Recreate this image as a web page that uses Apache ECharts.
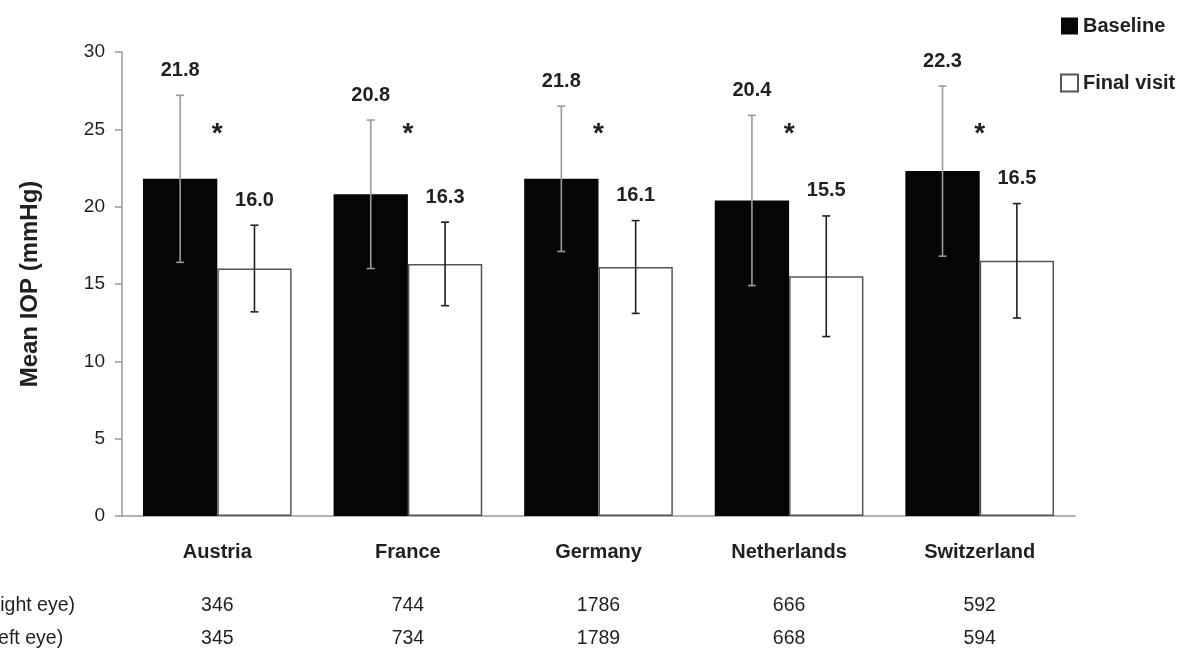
<!DOCTYPE html>
<html><head><meta charset="utf-8">
<script src="https://cdn.jsdelivr.net/npm/echarts@6/dist/echarts.min.js"></script>
<style>html,body{margin:0;padding:0;background:#fff}#main{width:1184px;height:652px}</style>
</head><body><div id="main"></div>
<script>
const countries = ['Austria', 'France', 'Germany', 'Netherlands', 'Switzerland'];
const baselineMean = [21.8, 20.8, 21.8, 20.4, 22.3];
const baselineSD = [5.4, 4.8, 4.7, 5.5, 5.5];
const finalMean = [16.0, 16.3, 16.1, 15.5, 16.5];
const finalSD = [2.8, 2.7, 3.0, 3.9, 3.7];
const nRightEye = ['346', '744', '1786', '666', '592'];
const nLeftEye = ['345', '734', '1789', '668', '594'];
const significance = ['*', '*', '*', '*', '*'];
const seriesNames = ['Baseline', 'Final visit'];
const rowNames = ['n (right eye)', 'n (left eye)'];

const FONT = '"Liberation Sans", Arial, sans-serif';
const TXT = '#231f20';
const GAP = 0.22;

function errRender(side, color) {
  return function (params, api) {
    const idx = api.value(0), m = api.value(1), sd = api.value(2);
    const band = api.size([1, 0])[0];
    const bw = band * (1 - GAP) / 2;
    const x = api.coord([idx, m])[0] + side * bw / 2;
    const yt = api.coord([idx, m + sd])[1];
    const yb = api.coord([idx, m - sd])[1];
    const st = { stroke: color, lineWidth: 1.6 };
    return {
      type: 'group',
      children: [
        { type: 'line', shape: { x1: x, y1: yt, x2: x, y2: yb }, style: st },
        { type: 'line', shape: { x1: x - 4, y1: yt, x2: x + 4, y2: yt }, style: st },
        { type: 'line', shape: { x1: x - 4, y1: yb, x2: x + 4, y2: yb }, style: st },
        { type: 'text', style: { text: m.toFixed(1), x: x, y: yt - 25, align: 'center', verticalAlign: 'middle',
          font: 'bold 20px ' + FONT, fill: TXT } }
      ]
    };
  };
}

function rowAxis(data, name, offset) {
  return {
    type: 'category', data: data, position: 'bottom', offset: offset,
    axisLine: { show: false }, axisTick: { show: false },
    axisLabel: { fontSize: 19.5, color: TXT, margin: 0, verticalAlign: 'middle', fontFamily: FONT },
    name: name, nameLocation: 'start', nameGap: 151,
    nameTextStyle: { fontSize: 19.5, color: TXT, align: 'left', verticalAlign: 'middle', fontFamily: FONT }
  };
}

const chart = echarts.init(document.getElementById('main'));
chart.setOption({
  animation: false,
  backgroundColor: '#fff',
  textStyle: { fontFamily: FONT },
  grid: { left: 122, right: 109, top: 52, bottom: 136, containLabel: false, outerBoundsMode: 'none' },
  legend: {
    data: seriesNames, orient: 'vertical', left: 1055, top: 11,
    icon: 'rect', itemWidth: 17, itemHeight: 17, itemGap: 37,
    textStyle: { fontSize: 20, fontWeight: 'bold', color: TXT, fontFamily: FONT }
  },
  xAxis: [
    {
      type: 'category', data: countries,
      axisLine: { lineStyle: { color: '#999', width: 1.5 } },
      axisTick: { length: 8, lineStyle: { color: '#999', width: 1.5 } },
      axisLabel: { fontSize: 20, fontWeight: 'bold', color: TXT, margin: 26, fontFamily: FONT }
    },
    rowAxis(nRightEye, rowNames[0], 90),
    rowAxis(nLeftEye, rowNames[1], 123)
  ],
  yAxis: {
    type: 'value', min: 0, max: 30, interval: 5,
    splitLine: { show: false },
    axisLine: { show: true, lineStyle: { color: '#999', width: 1.5 } },
    axisTick: { show: true, length: 7, lineStyle: { color: '#999', width: 1.5 } },
    axisLabel: { fontSize: 19, color: TXT, margin: 17, fontFamily: FONT },
    name: 'Mean IOP (mmHg)', nameLocation: 'middle', nameGap: 80,
    nameTextStyle: { fontSize: 24, fontWeight: 'bold', color: TXT, fontFamily: FONT }
  },
  series: [
    {
      name: seriesNames[0], type: 'bar', data: baselineMean, barGap: 0, barCategoryGap: '22%',
      itemStyle: { color: '#050505' }
    },
    {
      name: seriesNames[1], type: 'bar', data: finalMean, barGap: 0, barCategoryGap: '22%',
      itemStyle: { color: '#fff', borderColor: '#555', borderWidth: 1.5 }
    },
    {
      type: 'custom', renderItem: errRender(-1, '#9a9a9a'), z: 5,
      data: countries.map((c, i) => [i, baselineMean[i], baselineSD[i]])
    },
    {
      type: 'custom', renderItem: errRender(1, '#231f20'), z: 5,
      data: countries.map((c, i) => [i, finalMean[i], finalSD[i]])
    },
    {
      type: 'custom', z: 5,
      renderItem: function (params, api) {
        const idx = api.value(0);
        const p = api.coord([idx, 25]);
        return { type: 'text', style: { text: significance[idx], x: p[0], y: p[1] + 5, align: 'center',
          verticalAlign: 'middle', font: 'bold 28px ' + FONT, fill: TXT } };
      },
      data: countries.map((c, i) => [i, 25])
    }
  ]
});
</script>
</body></html>
